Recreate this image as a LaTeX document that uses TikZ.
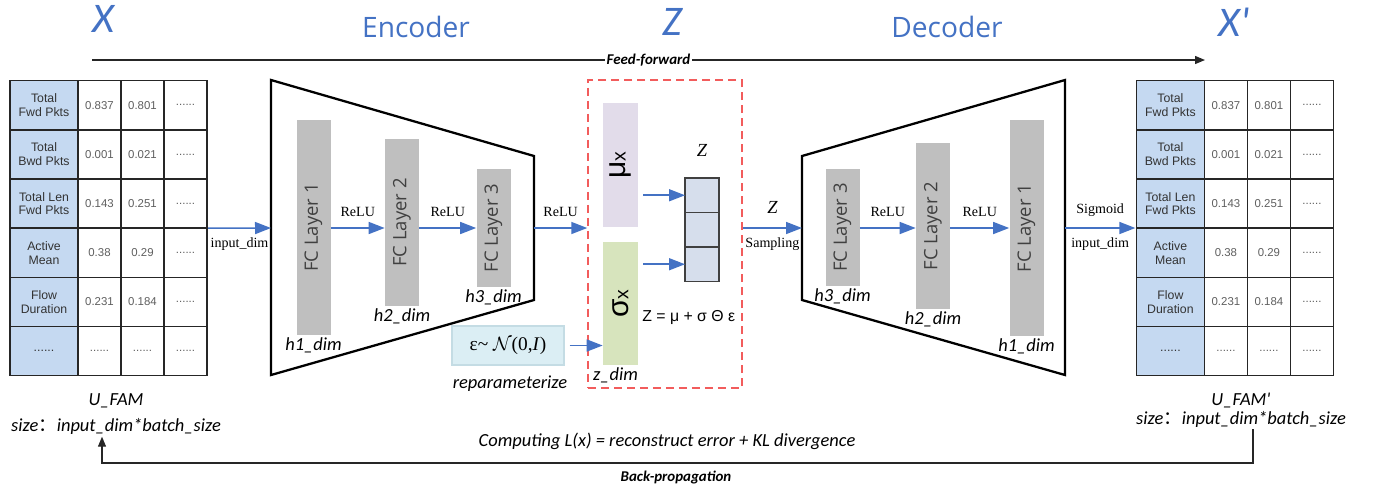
\documentclass[tikz,border=0pt]{standalone}
\usepackage{fontspec}
\usepackage{graphicx}
\setmainfont{Liberation Serif}
\newfontfamily\calib{Carlito}
\newfontfamily\osans{Open Sans}
\newfontfamily\arial{Liberation Sans}
\newfontfamily\cjk{Noto Sans CJK SC}
\usetikzlibrary{arrows.meta,positioning,fit}
\definecolor{vBlue}{HTML}{4472C4}
\definecolor{vLine}{HTML}{262626}
\definecolor{vGray}{HTML}{BFBFBF}
\definecolor{vFcText}{HTML}{404040}
\definecolor{vTabBlue}{HTML}{C5D9F1}
\definecolor{vTabText}{HTML}{333333}
\definecolor{vTabVal}{HTML}{5F5F5F}
\definecolor{vMu}{HTML}{E2DCEA}
\definecolor{vSig}{HTML}{D7E4BD}
\definecolor{vZcell}{HTML}{D6DEEC}
\definecolor{vEps}{HTML}{DBEEF4}
\definecolor{vEpsLine}{HTML}{C4DCE4}
\definecolor{vRed}{HTML}{F25C5C}

\newcommand{\fdots}{......}
% one feature table, #1 = name, #2 = left edge
\newcommand{\famtable}[2]{%
  \foreach \lab/\va/\vb [count=\r] in {Total\\Fwd Pkts/0.837/0.801,
      Total\\Bwd Pkts/0.001/0.021, Total Len\\Fwd Pkts/0.143/0.251,
      Active\\Mean/0.38/0.29, Flow\\Duration/0.231/0.184, \fdots/\fdots/\fdots}{%
    \node[famhead] (#1-\r-1) at ({#2},{80+49.17*(\r-1)}) {\lab};
    \node[famcell] (#1-\r-2) at ({#2+68},{80+49.17*(\r-1)}) {\va};
    \node[famcell] (#1-\r-3) at ({#2+111},{80+49.17*(\r-1)}) {\vb};
    \node[famcell] (#1-\r-4) at ({#2+154},{80+49.17*(\r-1)}) {\fdots};
  }
  \node[fit=(#1-1-1) (#1-6-4), inner sep=0pt] (#1) {};
}

\begin{document}
\begin{tikzpicture}[
  x=0.02cm, y=-0.02cm,
  barrow/.style={draw=vBlue, line width=0.9pt, -{Triangle[length=3.2mm, width=2.4mm]}},
  karrow/.style={draw=vLine, line width=0.7pt, -{Triangle[length=2mm, width=1.6mm]}},
  trap/.style={draw=black, line width=1.3pt, line join=miter},
  fc/.style={fill=vGray, minimum width=0.68cm, inner sep=0pt, text=vFcText,
             font=\osans\fontsize{10.5}{12}\selectfont},
  famhead/.style={draw=vLine, line width=0.8pt, fill=vTabBlue, anchor=north west,
                  minimum width=1.36cm, minimum height=0.983cm, inner sep=0pt,
                  align=center, text=vTabText, font=\arial\fontsize{7}{7.8}\selectfont},
  famcell/.style={famhead, fill=white, minimum width=0.86cm, text=vTabVal,
                  font=\arial\fontsize{6.5}{7}\selectfont},
  title/.style={text=vBlue, font=\calib\itshape\fontsize{24}{26}\selectfont},
  head/.style={text=vBlue, font=\osans\fontsize{16}{18}\selectfont},
  act/.style={inner sep=1pt, font=\fontsize{8}{9}\selectfont},
  zlab/.style={inner sep=1pt, font=\itshape\fontsize{10.5}{11}\selectfont},
  dimlab/.style={inner sep=1pt, font=\calib\itshape\fontsize{10.5}{12}\selectfont},
  note/.style={inner sep=1pt, align=center, font=\calib\itshape\fontsize{10.5}{11}\selectfont},
  pass/.style={inner sep=1pt, font=\calib\bfseries\itshape\fontsize{8.5}{9}\selectfont},
  latbox/.style={draw=vRed, line width=0.85pt, dash pattern=on 1.6mm off 1mm, inner sep=0pt},
  zcell/.style={draw=vFcText, line width=0.8pt, fill=vZcell, minimum width=0.68cm,
                minimum height=0.69cm, inner sep=0pt, outer sep=0pt},
  epsbox/.style={draw=vEpsLine, line width=0.6pt, fill=vEps, minimum width=2.24cm,
                 minimum height=0.78cm, font=\fontsize{11}{12}\selectfont},
]
\path[fill=white] (0,0) rectangle (1378,491);
\useasboundingbox (0,0) rectangle (1378,491);

% headings
\node[title] (hX) at (103,19) {X};
\node[head] (hEnc) at (416,27) {Encoder};
\node[title] (hZ) at (672,22) {Z};
\node[head] (hDec) at (947,27) {Decoder};
\node[title] (hXr) at (1234,22) {X'};

\coordinate (ffL) at (92,60);
\coordinate (ffR) at (1205,60);
\draw[karrow] (ffL) -- node[pass, fill=white] (ffLab) {Feed-forward} (ffR);

% input and output tables
\famtable{tabL}{9.3}
\famtable{tabR}{1135.7}

% encoder
\draw[trap] (271,80) -- (534,156) -- (534,300) -- (271,375) -- cycle;
\coordinate (encIn) at (271,228);
\coordinate (encOut) at (534,228);
\node[fc, minimum height=4.3cm] (e1) at (313.5,227.5) {\rotatebox{90}{FC Layer 1}};
\node[fc, minimum height=3.34cm] (e2) at (402,222.5) {\rotatebox{90}{FC Layer 2}};
\node[fc, minimum height=2.36cm] (e3) at (493.5,228) {\rotatebox{90}{FC Layer 3}};
\node[dimlab, below=0pt of e1] (e1d) {h1\_dim};
\node[dimlab, below=0pt of e2] (e2d) {h2\_dim};
\node[dimlab, below=0pt of e3] (e3d) {h3\_dim};

\draw[barrow] (tabL.east) -- node[act, below=4pt] (inL) {input\_dim} (encIn);
\draw[barrow] (e1.east |- encIn) -- node[act, above=5pt] (r1) {ReLU} (e2.west |- encIn);
\draw[barrow] (e2.east |- encIn) -- node[act, above=5pt] (r2) {ReLU} (e3.west |- encIn);

% latent part
\coordinate (latNW) at (588,80);
\coordinate (latSE) at (742,388);
\node[latbox, fit=(latNW) (latSE)] (lat) {};
\draw[barrow] (encOut) -- node[act, above=5pt] (r3) {ReLU} (lat.west |- encOut);

\node[fill=vMu, minimum width=0.7cm, minimum height=2.48cm, inner sep=0pt] (mu) at (620.5,165)
  {\rotatebox{90}{\arial\fontsize{17}{17}\selectfont μ\fontsize{11}{11}\selectfont x}};
\node[fill=vSig, minimum width=0.7cm, minimum height=2.46cm, inner sep=0pt] (sig) at (620.5,303.5)
  {\rotatebox{90}{\arial\fontsize{17}{17}\selectfont σ\fontsize{11}{11}\selectfont x}};
\node[dimlab, below=0pt of sig, xshift=-0.1cm] (zDim) {z\_dim};

\node[zcell] (zv1) at (702,195.25) {};
\node[zcell, below=0pt of zv1] (zv2) {};
\node[zcell, below=0pt of zv2] (zv3) {};
\node[zlab] (zTop) at (702,150) {Z};
\draw[barrow, shorten <=1mm] (mu.east |- zv1) -- (zv1.west);
\draw[barrow, shorten <=1mm] (sig.east |- zv3) -- (zv3.west);
\node[anchor=west, inner sep=0pt, font=\arial\fontsize{9}{11}\selectfont] (zEq) at (642,317)
  {Z = μ + σ Θ ε};

\node[epsbox] (eps) at (508,345.5) {ε\textasciitilde{} $\mathcal{N}$(0,\textit{I})};
\draw[barrow, shorten <=1mm] (eps.east) -- (sig.west |- eps.east);
\node[dimlab] (repLab) at (510,384) {reparameterize};

% decoder
\coordinate (decIn) at (802,228);
\coordinate (decOut) at (1065,228);
\draw[trap] (802,156) -- (1065,80) -- (1065,375) -- (802,300) -- cycle;
\node[fc, minimum height=2.34cm] (d3) at (842.5,227.5) {\rotatebox{90}{FC Layer 3}};
\node[fc, minimum height=3.32cm] (d2) at (933,226) {\rotatebox{90}{FC Layer 2}};
\node[fc, minimum height=4.32cm] (d1) at (1026.5,228) {\rotatebox{90}{FC Layer 1}};
\node[dimlab, below=0pt of d3] (d3d) {h3\_dim};
\node[dimlab, below=0pt of d2] (d2d) {h2\_dim};
\node[dimlab, below=0pt of d1] (d1d) {h1\_dim};

\draw[barrow] (lat.east |- decIn) -- node[zlab, above=7pt] (zS) {Z}
  node[act, below=4pt] (sLab) {Sampling} (decIn);
\draw[barrow] (d3.east |- decIn) -- node[act, above=5pt] (r4) {ReLU} (d2.west |- decIn);
\draw[barrow] (d2.east |- decIn) -- node[act, above=5pt] (r5) {ReLU} (d1.west |- decIn);
\draw[barrow] (decOut) -- node[act, above=5pt] (sig2) {Sigmoid}
  node[act, below=4pt] (inR) {input\_dim} (tabR.west |- decOut);

% loss and back-propagation
\node[note] (famL) at (116,414) {U\_FAM\\[4pt]size{\cjk ：}input\_dim*batch\_size};
\node[note] (famR) at (1241,410) {U\_FAM'\\size{\cjk ：}input\_dim*batch\_size};
\node[note] (loss) at (667,441) {Computing L(x) = reconstruct error + KL divergence};
\coordinate (bpR) at (1253,463);
\coordinate (bpL) at (102,463);
\draw[karrow] (famR.south -| bpR) -- (bpR) -- (bpL) -- (famL.south -| bpL);
\node[pass] (bpLab) at (676,478) {Back-propagation};

\end{tikzpicture}
\end{document}
